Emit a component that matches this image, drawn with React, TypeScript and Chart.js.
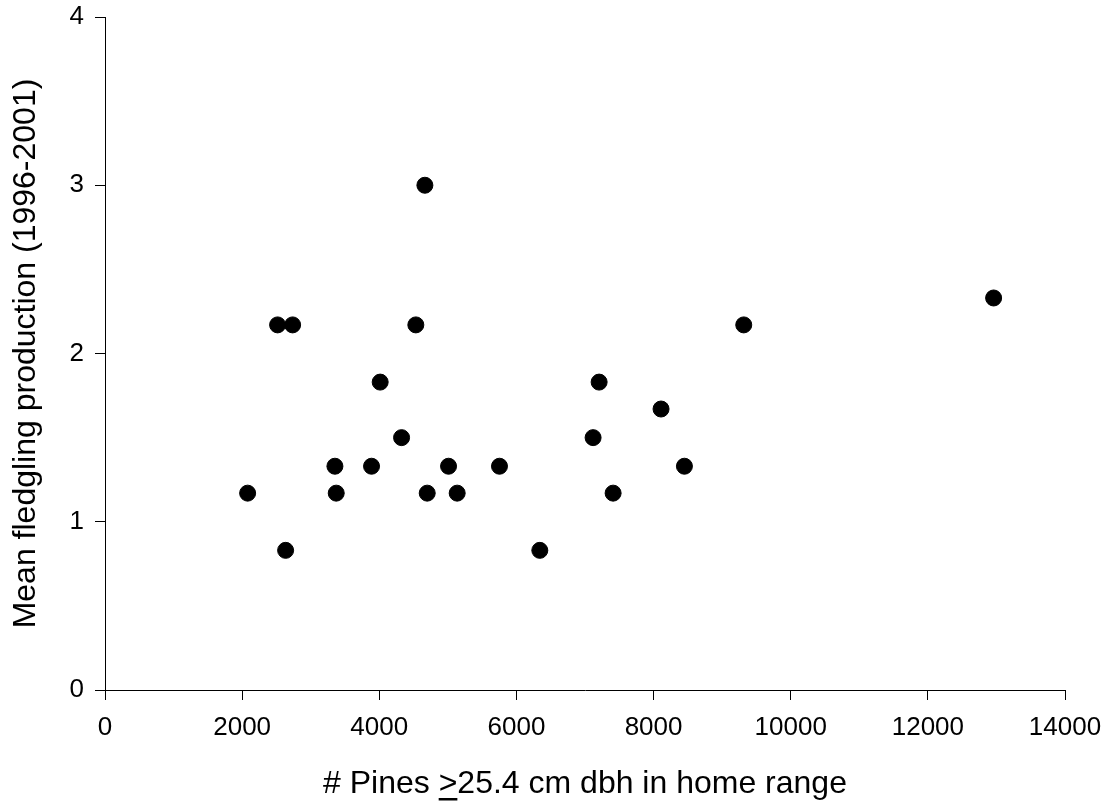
import React, { useEffect, useRef } from "react";
import { Chart, registerables } from "chart.js";

Chart.register(...registerables);

// Number of pines >= 25.4 cm dbh in home range
const pines: number[] = [
  2080, 2517, 2634, 2736, 3353, 3372, 3887, 4013, 4325, 4533, 4665, 4699,
  5010, 5136, 5753, 6341, 7118, 7206, 7410, 8109, 8450, 9315, 12959,
];
// Mean fledgling production (1996-2001)
const fledglings: number[] = [
  1.17, 2.17, 0.83, 2.17, 1.33, 1.17, 1.33, 1.83, 1.5, 2.17, 3.0, 1.17,
  1.33, 1.17, 1.33, 0.83, 1.5, 1.83, 1.17, 1.67, 1.33, 2.17, 2.33,
];

const xTicks: number[] = [0, 2000, 4000, 6000, 8000, 10000, 12000, 14000];
const yTicks: number[] = [0, 1, 2, 3, 4];

const xTitle = "# Pines >25.4 cm dbh in home range";
const xTitlePrefix = "# Pines ";
const yTitle = "Mean fledgling production (1996-2001)";

const FAMILY = '"Liberation Sans", Arial, sans-serif';
const TITLE_SIZE = 32;
const TICK_SIZE = 26;
const X_TITLE_PAD_BOTTOM = 0.6;

const underlinePlugin = {
  id: "underlineGe",
  afterDraw(chart: any) {
    const xs = chart.scales.x;
    const ctx = chart.ctx;
    ctx.save();
    ctx.font = `normal ${TITLE_SIZE}px ${FAMILY}`;
    const full = ctx.measureText(xTitle).width;
    const pre = ctx.measureText(xTitlePrefix).width;
    const g = ctx.measureText(">").width;
    const cx = (xs.left + xs.right) / 2;
    const start = cx - full / 2 + pre;
    const mid = xs.bottom - (TITLE_SIZE * 1.2) / 2 - X_TITLE_PAD_BOTTOM;
    ctx.fillStyle = "#000";
    ctx.fillRect(start, mid + 13.8, g, 2.5);
    ctx.restore();
  },
};

export default function App() {
  const ref = useRef<HTMLCanvasElement | null>(null);

  useEffect(() => {
    if (!ref.current) return;
    Chart.defaults.font.family = FAMILY;
    const data = pines.map((x, i) => ({ x, y: fledglings[i] }));
    const chart = new Chart(ref.current, {
      type: "scatter",
      data: {
        datasets: [
          {
            data,
            backgroundColor: "#000",
            borderColor: "#000",
            borderWidth: 1,
            pointRadius: 8,
            pointHoverRadius: 8,
          },
        ],
      },
      options: {
        animation: false,
        responsive: false,
        events: [],
        layout: { padding: { top: 17, right: 42, bottom: 0, left: 0 } },
        plugins: {
          legend: { display: false },
          tooltip: { enabled: false },
          title: { display: false },
        },
        scales: {
          x: {
            type: "linear",
            min: 0,
            max: 14000,
            afterFit(scale: any) {
              scale.height = 114;
              scale.paddingLeft = 0;
              scale.paddingRight = 0;
            },
            afterBuildTicks(scale: any) {
              scale.ticks = xTicks.map((v) => ({ value: v }));
            },
            ticks: {
              color: "#000",
              font: { size: TICK_SIZE },
              padding: 12,
              maxRotation: 0,
              autoSkip: false,
              callback: (v: any) => String(v),
            },
            grid: {
              display: true,
              drawOnChartArea: false,
              drawTicks: true,
              tickLength: 10,
              color: "#000",
              lineWidth: 1,
            },
            border: { display: true, color: "#000", width: 1 },
            title: {
              display: true,
              text: xTitle,
              color: "#000",
              font: { size: TITLE_SIZE },
              padding: { top: 0, bottom: X_TITLE_PAD_BOTTOM },
            },
          },
          y: {
            type: "linear",
            min: 0,
            max: 4,
            afterFit(scale: any) {
              scale.width = 105;
              scale.paddingTop = 0;
              scale.paddingBottom = 0;
            },
            afterBuildTicks(scale: any) {
              scale.ticks = yTicks.map((v) => ({ value: v }));
            },
            ticks: {
              color: "#000",
              font: { size: TICK_SIZE },
              padding: 11,
              autoSkip: false,
              callback: (v: any) => String(v),
            },
            grid: {
              display: true,
              drawOnChartArea: false,
              drawTicks: true,
              tickLength: 10,
              color: "#000",
              lineWidth: 1,
            },
            border: { display: true, color: "#000", width: 1 },
            title: {
              display: true,
              text: yTitle,
              color: "#000",
              font: { size: TITLE_SIZE },
              padding: { top: 6.8, bottom: 0 },
            },
          },
        },
      },
      plugins: [underlinePlugin],
    });
    return () => chart.destroy();
  }, []);

  return (
    <div style={{ position: "absolute", left: 0, top: 0, width: 1107, height: 804, background: "#fff" }}>
      <canvas ref={ref} width={1107} height={804} style={{ display: "block", width: 1107, height: 804 }} />
    </div>
  );
}
